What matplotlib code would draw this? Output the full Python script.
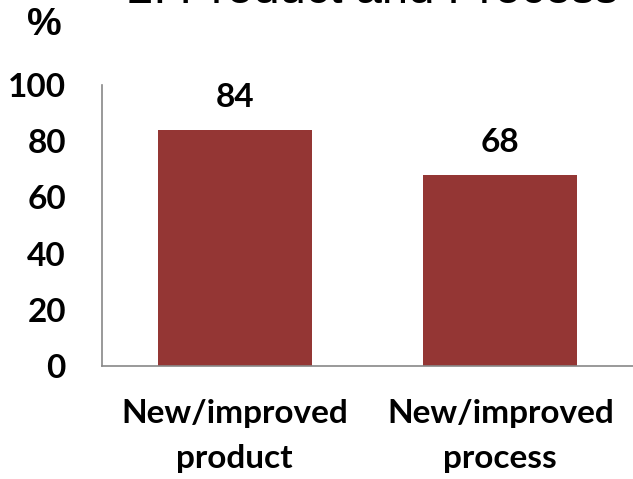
import matplotlib.pyplot as plt

categories = ["New/improved\nproduct", "New/improved\nprocess"]
values = [84, 68]
yticks = [0, 20, 40, 60, 80, 100]
title = "2. Product and Process"

bar_color = "#943634"
label_font = "Lato"

fig = plt.figure(figsize=(6.33, 4.79), dpi=100)
ax = fig.add_axes([102 / 633, 1 - 366 / 479, 1 - 102 / 633, (366 - 85) / 479])

x = range(len(categories))
bars = ax.bar(x, values, width=0.58, color=bar_color)

ax.set_xlim(-0.5, 1.5)
ax.set_ylim(0, 100)
ax.set_yticks(yticks)
ax.set_yticklabels([str(t) for t in yticks], fontsize=24, fontweight="bold",
                   family=label_font)
ax.set_xticks(list(x))
ax.set_xticklabels(categories, fontsize=24, fontweight="bold", family=label_font,
                   linespacing=1.65)
ax.tick_params(axis="y", length=0, pad=26)
ax.tick_params(axis="x", length=0, pad=24)

for s in ["top", "right"]:
    ax.spines[s].set_visible(False)
for s in ["left", "bottom"]:
    ax.spines[s].set_color("#888888")
    ax.spines[s].set_linewidth(1.2)

for b, v in zip(bars, values):
    ax.annotate(str(v), (b.get_x() + b.get_width() / 2, v), xytext=(0, 13),
                textcoords="offset points", ha="center", va="bottom",
                fontsize=24, fontweight="bold", family=label_font)

fig.text(44 / 633, 1 - 25 / 479, "%", ha="center", va="center", fontsize=28,
         fontweight="bold", family="Liberation Sans")
fig.text(127 / 633, 1 - 3 / 479, title, ha="left", va="baseline", fontsize=34,
         family="Liberation Sans")

fig.savefig("out.png", dpi=100)
